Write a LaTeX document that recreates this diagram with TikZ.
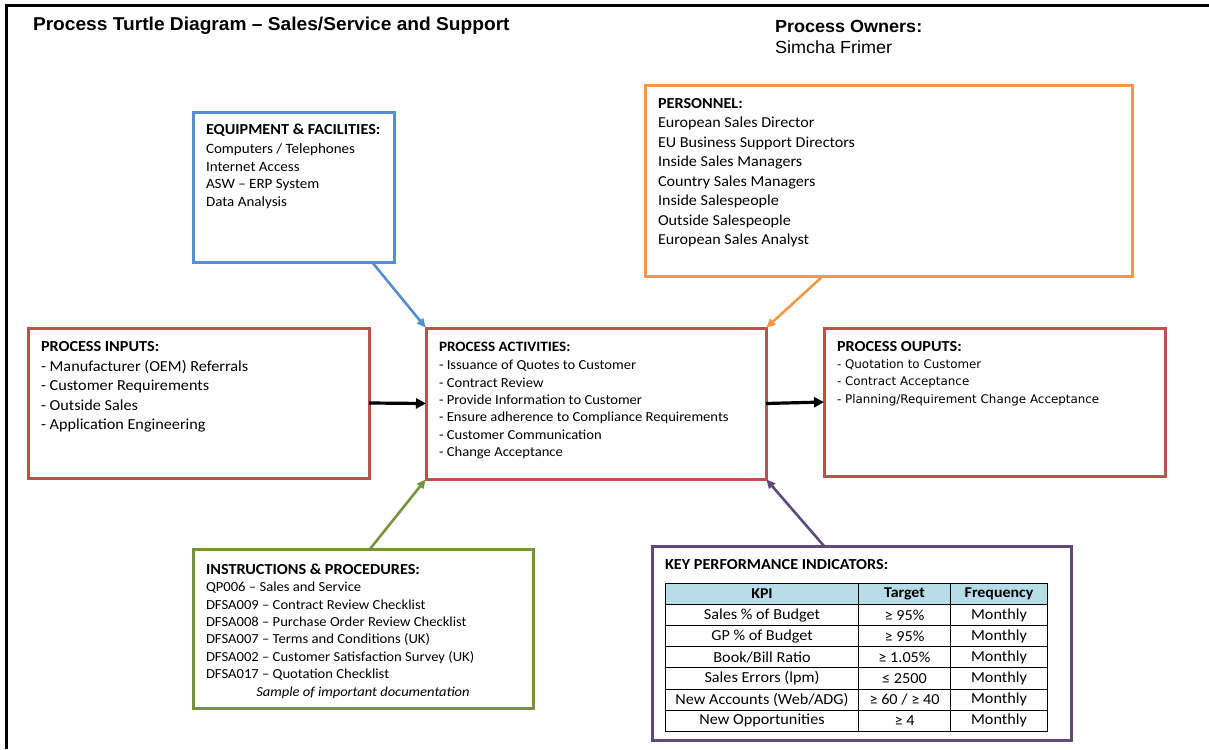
\documentclass[tikz,border=0pt]{standalone}
\usepackage{fontspec}
\setmainfont{Carlito}[FakeStretch=1.06]
\newfontfamily\arialfont{Liberation Sans}[FakeStretch=1.03]
\newfontfamily\dejafont{DejaVu Sans}
\usetikzlibrary{arrows.meta,matrix,calc}
\definecolor{cBlue}{HTML}{558ED5}
\definecolor{cOrange}{HTML}{F79646}
\definecolor{cRed}{HTML}{C0504D}
\definecolor{cGreen}{HTML}{77933C}
\definecolor{cPurple}{HTML}{604A7B}
\definecolor{cHead}{HTML}{B7DEE8}
\begin{document}
\begin{tikzpicture}[x=1pt,y=-1pt,
  box/.style={draw, line width=3pt, inner sep=0pt, outer sep=0pt, anchor=north west},
  txt/.style={anchor=base west, inner sep=0pt, outer sep=0pt},
  hdr/.style={txt, font=\fontsize{15.3}{18}\selectfont\bfseries},
  feed/.style={line width=2.6pt, -{Triangle[length=9pt,width=8pt]}, shorten >=0.5pt},
  flow/.style={line width=3.2pt, black, -{Triangle[length=10pt,width=10pt]}}
]
\useasboundingbox (0,0) rectangle (1209,749);
% frame
\draw[line width=2.5pt] (6.5,749) -- (6.5,5.5) -- (1209,5.5);
% title
\node[txt, font=\arialfont\fontsize{18.6}{22}\selectfont\bfseries] (title) at (33,30.5) {Process Turtle Diagram – Sales/Service and Support};
\node[txt, font=\arialfont\fontsize{17.5}{21}\selectfont\bfseries] (owners) at (775,33) {Process Owners:};
\node[txt, font=\arialfont\fontsize{17.5}{21}\selectfont] (owner) at (775,53.5) {Simcha Frimer};

% boxes
\node[box, draw=cBlue, minimum width=201pt, minimum height=149pt] (equip) at (193,113) {};
\node[box, draw=cOrange, minimum width=487pt, minimum height=190pt] (pers) at (645,86) {};
\node[box, draw=cRed, minimum width=341pt, minimum height=150pt] (inp) at (28,328) {};
\node[box, draw=cRed, minimum width=340pt, minimum height=151pt] (act) at (426,328) {};
\node[box, draw=cRed, minimum width=341pt, minimum height=148pt] (outp) at (824,328) {};
\node[box, draw=cGreen, minimum width=340pt, minimum height=159pt] (instr) at (193,549) {};
\node[box, draw=cPurple, minimum width=419pt, minimum height=194pt] (kpibox) at (652,546) {};

% equipment text
\node[hdr] (eqh) at (206,135) {EQUIPMENT \& FACILITIES:};
\foreach \t [count=\i from 0] in {Computers / Telephones, Internet Access, ASW – ERP System, Data Analysis}
  \node[txt, font=\fontsize{14.2}{17}\selectfont] (eq\i) at (206,{153.6+17.6*\i}) {\t};

% personnel text
\node[hdr] (peh) at (658,109) {PERSONNEL:};
\foreach \t [count=\i from 0] in {European  Sales Director, EU Business Support Directors, Inside Sales Managers, Country  Sales Managers, Inside Salespeople, Outside Salespeople, European  Sales Analyst}
  \node[txt, font=\fontsize{15.2}{18}\selectfont] (pe\i) at (658,{128+19.45*\i}) {\t};

% inputs text
\node[hdr] (inh) at (41,351) {PROCESS INPUTS:};
\foreach \t [count=\i from 0] in {- Manufacturer  (OEM) Referrals, - Customer Requirements, - Outside Sales, - Application Engineering}
  \node[txt, font=\fontsize{15.3}{18}\selectfont] (in\i) at (41,{371+19.5*\i}) {\t};

% activities text
\node[hdr, font=\fontsize{14.3}{17}\selectfont\bfseries] (ach) at (439,351) {PROCESS ACTIVITIES:};
\foreach \t [count=\i from 0] in {- Issuance of Quotes to Customer, - Contract Review, - Provide Information to Customer, - Ensure adherence to Compliance Requirements, - Customer Communication, - Change Acceptance}
  \node[txt, font=\fontsize{13.8}{16}\selectfont] (ac\i) at (439,{369.6+17.4*\i}) {\t};

% outputs text
\node[hdr] (ouh) at (837,351) {PROCESS OUPUTS:};
\foreach \t [count=\i from 0] in {- Quotation to Customer, - Contract Acceptance, - Planning/Requirement Change Acceptance}
  \node[txt, font=\dejafont\fontsize{11.9}{14}\selectfont] (ou\i) at (837,{368.3+17.6*\i}) {\t};

% instructions text
\node[hdr] (ish) at (206,574) {INSTRUCTIONS \& PROCEDURES:};
\foreach \t [count=\i from 0] in {QP006 – Sales and Service, DFSA009 – Contract Review Checklist, DFSA008 – Purchase Order Review Checklist, DFSA007 – Terms and Conditions (UK), DFSA002 – Customer Satisfaction Survey (UK), DFSA017 – Quotation Checklist}
  \node[txt, font=\fontsize{13.8}{16}\selectfont] (is\i) at (206,{591.7+17.4*\i}) {\t};
\node[anchor=base, inner sep=0pt, font=\fontsize{13.7}{16}\selectfont\itshape] (issample) at (363,696) {Sample of important documentation};

% KPI
\node[hdr] (kph) at (665,569) {KEY PERFORMANCE INDICATORS:};
\matrix (kpi) [matrix of nodes, anchor=north west, inner sep=0pt, outer sep=0pt,
  column sep=-1pt, row sep=-1pt,
  nodes={draw, line width=1pt, minimum height=21.1pt, inner sep=0pt, outer sep=0pt, anchor=center, font=\fontsize{15.3}{18}\selectfont},
  column 1/.style={nodes={minimum width=193pt}},
  column 2/.style={nodes={minimum width=92pt}},
  column 3/.style={nodes={minimum width=97pt}},
  row 1/.style={nodes={fill=cHead, font=\fontsize{15}{18}\selectfont\bfseries}}]
  at (665,583) {
  KPI & Target & Frequency \\
  Sales \% of Budget & ≥ 95\% & Monthly \\
  GP \% of Budget & ≥ 95\% & Monthly \\
  Book/Bill Ratio & ≥ 1.05\% & Monthly \\
  Sales Errors (lpm) & ≤ 2500 & Monthly \\
  New Accounts (Web/ADG) & ≥ 60 / ≥ 40 & Monthly \\
  New Opportunities & ≥ 4 & Monthly \\
};

% connectors
\draw[feed, cBlue] ($(equip.south west)+(179,0)$) -- (act.north west);
\draw[feed, cOrange] ($(pers.south west)+(178,0)$) -- (act.north east);
\draw[feed, cGreen] ($(instr.north west)+(177,0)$) -- (act.south west);
\draw[feed, cPurple] ($(kpibox.north west)+(172,0)$) -- (act.south east);
\draw[flow] (inp.east) -- (act.west);
\draw[flow] (act.east) -- (outp.west);
\end{tikzpicture}
\end{document}
